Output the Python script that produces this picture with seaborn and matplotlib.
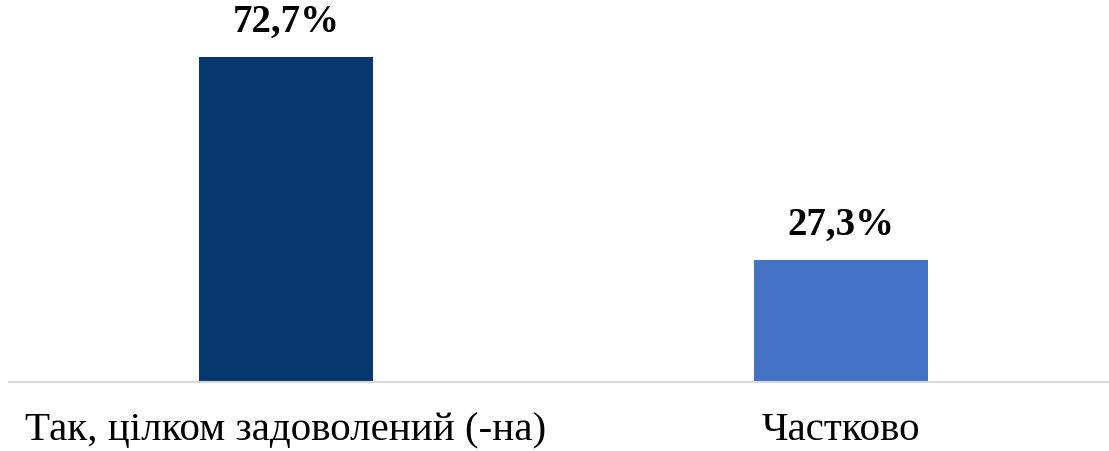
import matplotlib
matplotlib.use("Agg")
import matplotlib.pyplot as plt
import seaborn as sns
import pandas as pd

categories = ["Так, цілком задоволений (-на)", "Частково"]
values = [72.7, 27.3]
labels = ["72,7%", "27,3%"]
colors = ["#06376E", "#4472C4"]

sns.set_style("white")
plt.rcParams["font.family"] = ["Liberation Serif", "DejaVu Serif"]
plt.rcParams["text.color"] = "black"
plt.rcParams["xtick.color"] = "black"

df = pd.DataFrame({"cat": categories, "val": values})

fig = plt.figure(figsize=(11.09, 4.52), dpi=100)
ax = fig.add_axes([8.5 / 1109, 69 / 452, 1110 / 1109, 383 / 452])
sns.barplot(data=df, x="cat", y="val", hue="cat", palette=colors,
            width=0.314, legend=False, ax=ax, saturation=1, linewidth=0)

for i, (v, t) in enumerate(zip(values, labels)):
    ax.annotate(t, (i, v), xytext=(0, 12), textcoords="offset points",
                ha="center", va="bottom", fontsize=28, fontweight="bold")

ax.set_xlim(-0.5, 1.5)
ax.set_ylim(0, 85.6)
ax.set_xlabel("")
ax.set_ylabel("")
ax.set_yticks([])
ax.tick_params(axis="x", length=0, labelsize=29.5, pad=21)
for s in ["top", "right", "left"]:
    ax.spines[s].set_visible(False)
ax.spines["bottom"].set_color("#d9d9d9")
ax.spines["bottom"].set_linewidth(1.5)

fig.savefig("out.png", dpi=100)
